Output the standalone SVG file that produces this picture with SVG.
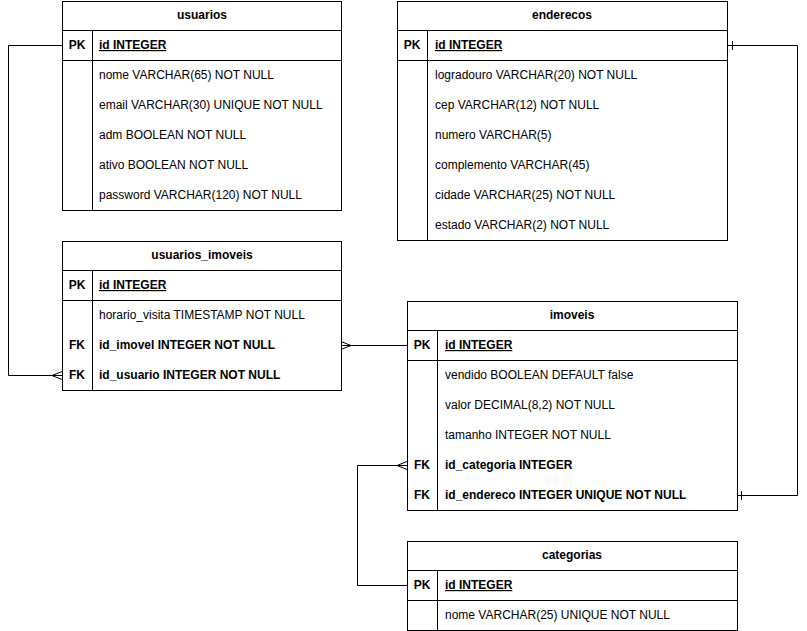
<svg xmlns="http://www.w3.org/2000/svg" width="807" height="631" viewBox="0 0 807 631">
<style>
.box{fill:#fff;stroke:#000;stroke-width:1}
.ln{stroke:#000;stroke-width:1;fill:none}
text{font-family:"Liberation Sans",Arial,sans-serif;font-size:12px;fill:#000}
.h{font-weight:bold;text-anchor:middle}
.k{font-weight:bold;text-anchor:middle}
.b{font-weight:bold}
.u{font-weight:bold;text-decoration:underline}
</style>
<rect width="807" height="631" fill="#fff"/>
<g id="usuarios">
<rect class="box" x="62.5" y="1.5" width="279" height="209"/>
<path class="ln" d="M62.5 30.5H341.5M62.5 60.5H341.5M92.5 30.5V210.5"/>
<text class="h" x="202" y="19">usuarios</text>
<text class="k" x="77" y="49">PK</text>
<text class="u" x="99" y="49">id INTEGER</text>
<text x="99" y="79">nome VARCHAR(65) NOT NULL</text>
<text x="99" y="109">email VARCHAR(30) UNIQUE NOT NULL</text>
<text x="99" y="139">adm BOOLEAN NOT NULL</text>
<text x="99" y="169">ativo BOOLEAN NOT NULL</text>
<text x="99" y="199">password VARCHAR(120) NOT NULL</text>
</g>
<g id="enderecos">
<rect class="box" x="397.5" y="1.5" width="330" height="239"/>
<path class="ln" d="M397.5 30.5H727.5M397.5 60.5H727.5M427.5 30.5V240.5"/>
<text class="h" x="562" y="19">enderecos</text>
<text class="k" x="412" y="49">PK</text>
<text class="u" x="435" y="49">id INTEGER</text>
<text x="435" y="79">logradouro VARCHAR(20) NOT NULL</text>
<text x="435" y="109">cep VARCHAR(12) NOT NULL</text>
<text x="435" y="139">numero VARCHAR(5)</text>
<text x="435" y="169">complemento VARCHAR(45)</text>
<text x="435" y="199">cidade VARCHAR(25) NOT NULL</text>
<text x="435" y="229">estado VARCHAR(2) NOT NULL</text>
</g>
<g id="usuarios_imoveis">
<rect class="box" x="62.5" y="241.5" width="279" height="149"/>
<path class="ln" d="M62.5 270.5H341.5M62.5 300.5H341.5M92.5 270.5V390.5"/>
<text class="h" x="202" y="259">usuarios_imoveis</text>
<text class="k" x="77" y="289">PK</text>
<text class="u" x="99" y="289">id INTEGER</text>
<text x="99" y="319">horario_visita TIMESTAMP NOT NULL</text>
<text class="k" x="77" y="349">FK</text>
<text class="b" x="99" y="349">id_imovel INTEGER NOT NULL</text>
<text class="k" x="77" y="379">FK</text>
<text class="b" x="99" y="379">id_usuario INTEGER NOT NULL</text>
</g>
<g id="imoveis">
<rect class="box" x="407.5" y="301.5" width="330" height="209"/>
<path class="ln" d="M407.5 330.5H737.5M407.5 360.5H737.5M437.5 330.5V510.5"/>
<text class="h" x="572" y="319">imoveis</text>
<text class="k" x="422" y="349">PK</text>
<text class="u" x="445" y="349">id INTEGER</text>
<text x="445" y="379">vendido BOOLEAN DEFAULT false</text>
<text x="445" y="409">valor DECIMAL(8,2) NOT NULL</text>
<text x="445" y="439">tamanho INTEGER NOT NULL</text>
<text class="k" x="422" y="469">FK</text>
<text class="b" x="445" y="469">id_categoria INTEGER</text>
<text class="k" x="422" y="499">FK</text>
<text class="b" x="445" y="499">id_endereco INTEGER UNIQUE NOT NULL</text>
</g>
<g id="categorias">
<rect class="box" x="407.5" y="541.5" width="330" height="89"/>
<path class="ln" d="M407.5 570.5H737.5M407.5 600.5H737.5M437.5 570.5V630.5"/>
<text class="h" x="572" y="559">categorias</text>
<text class="k" x="422" y="589">PK</text>
<text class="u" x="445" y="589">id INTEGER</text>
<text x="445" y="619">nome VARCHAR(25) UNIQUE NOT NULL</text>
</g>
<g id="connectors">
<path class="ln" d="M62 45.5H8.5V375.5H62"/>
<path class="ln" d="M52 375.5L62 371.5M52 375.5L62 379.5"/>
<path class="ln" d="M341 345.5H407"/>
<path class="ln" d="M351 345.5L341 341.5M351 345.5L341 349.5"/>
<path class="ln" d="M728 45.5H797.5V495.5H738"/>
<path class="ln" d="M732.5 41V50M741.5 491V500"/>
<path class="ln" d="M407 585.5H357.5V465.5H407"/>
<path class="ln" d="M397 465.5L407 461.5M397 465.5L407 469.5"/>
</g>
</svg>
